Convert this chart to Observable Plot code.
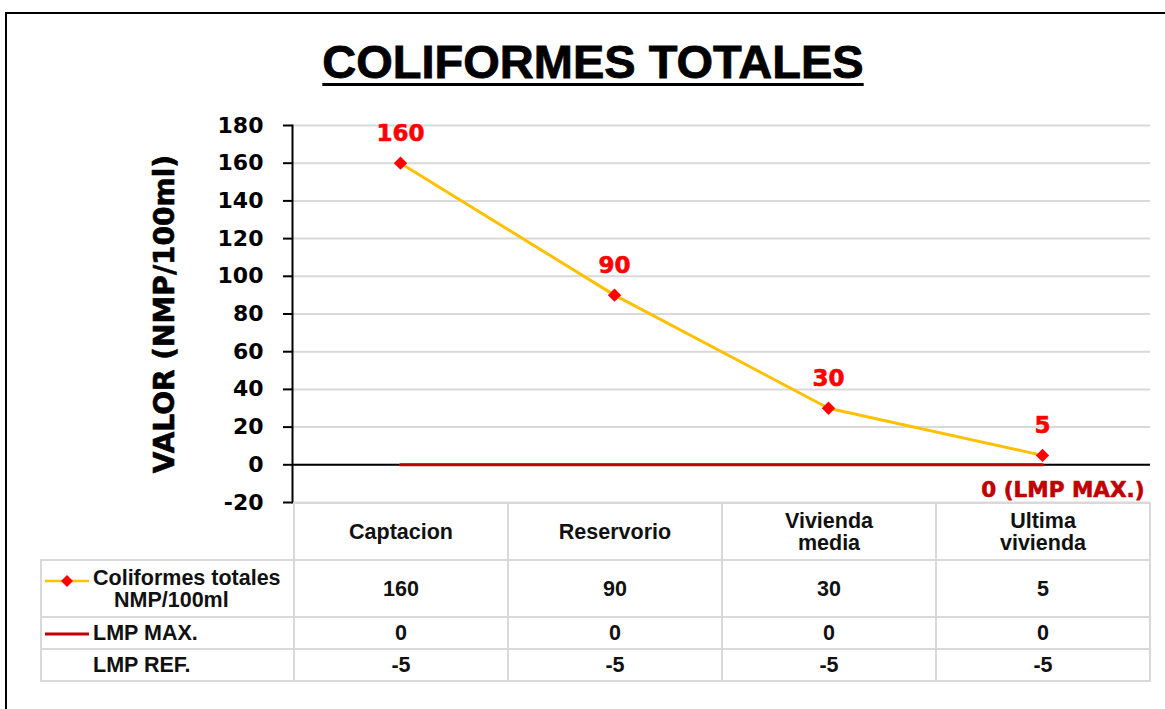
<!DOCTYPE html>
<html>
<head>
<meta charset="utf-8">
<script src="https://cdn.jsdelivr.net/npm/d3@7"></script>
<script src="https://cdn.jsdelivr.net/npm/@observablehq/plot@0.6"></script>
<style>
  html, body { margin: 0; padding: 0; background: #fff; }
  #wrap { position: relative; width: 1165px; height: 709px; overflow: hidden; background: #fff; }
  #frame { position: absolute; left: 5px; top: 12px; width: 1200px; height: 800px;
           border-left: 2px solid #000; border-top: 2px solid #000; box-sizing: border-box; }
  #title { position: absolute; top: 38px; left: 593px; transform: translateX(-50%);
           font-family: "Liberation Sans", Arial, sans-serif; font-weight: bold; font-size: 47px;
           line-height: 1; white-space: nowrap; color: #000; -webkit-text-stroke: 0.8px #000;
           text-decoration: underline; text-decoration-thickness: 3px; text-underline-offset: 5px; }
  #chart { position: absolute; left: 0; top: 0; }
  #chart text.heavy { paint-order: stroke; }
  #tbl { position: absolute; border-collapse: collapse; table-layout: fixed;
         font-family: "Liberation Sans", Arial, sans-serif; font-weight: bold; font-size: 21.5px; color: #111; }
  #tbl td { border: 2px solid #d9d9d9; text-align: center; padding: 0; line-height: 22px; box-sizing: border-box; }
  #tbl td.blank { border-top: none; border-left: none; }
  #tbl td.leg { text-align: left; white-space: nowrap; }
  .key { display: inline-block; vertical-align: middle; width: 44px; height: 14px; margin: 0 4px 0 3px; }
</style>
</head>
<body>
<div id="wrap">
  <div id="frame"></div>
  <div id="title">COLIFORMES TOTALES</div>
</div>
<script>
// ---- data ----
const categories = ["Captacion", "Reservorio", "Vivienda media", "Ultima vivienda"];
const headerLabels = [["Captacion"], ["Reservorio"], ["Vivienda", "media"], ["Ultima", "vivienda"]];
const coliformes = [160, 90, 30, 5];
const lmpMax = [0, 0, 0, 0];
const lmpRef = [-5, -5, -5, -5];
const yTicks = [-20, 0, 20, 40, 60, 80, 100, 120, 140, 160, 180];
const seriesNames = ["Coliformes totales NMP/100ml", "LMP MAX.", "LMP REF."];
const yLabel = "VALOR (NMP/100ml)";

const colData = categories.map((c, i) => ({cat: c, value: coliformes[i]}));
const maxData = categories.map((c, i) => ({cat: c, value: lmpMax[i]}));

const FONT = "DejaVu Sans";

const chart = Plot.plot({
  width: 1165,
  height: 709,
  marginTop: 125,
  marginBottom: 207,
  marginLeft: 292,
  marginRight: 15,
  style: {background: "transparent", overflow: "visible", fontFamily: FONT},
  x: {type: "point", domain: categories, padding: 0.5, axis: null},
  y: {domain: [-20, 180]},
  marks: [
    Plot.gridY(yTicks, {stroke: "#d9d9d9", strokeOpacity: 1, strokeWidth: 2}),
    Plot.ruleY([0], {stroke: "#000", strokeWidth: 2}),
    Plot.frame({anchor: "left", stroke: "#000", strokeWidth: 2}),
    Plot.axisY({
      ticks: yTicks, tickSize: 9, tickPadding: 20, tickFormat: d => String(d),
      fontSize: 22, fontWeight: "bold", fontFamily: FONT, fill: "#000", stroke: "#000", strokeWidth: 2, label: null
    }),
    Plot.text([yLabel], {frameAnchor: "left", textAnchor: "middle", dx: -127, rotate: -90, fontSize: 28,
      fontWeight: "bold", fontFamily: FONT, fill: "#000", stroke: "#000", strokeWidth: 0.6}),
    Plot.lineY(maxData, {x: "cat", y: "value", stroke: "#C00000", strokeWidth: 3}),
    Plot.lineY(colData, {x: "cat", y: "value", stroke: "#FFC000", strokeWidth: 3}),
    Plot.dot(colData, {x: "cat", y: "value", symbol: "diamond2", fill: "#FF0000", stroke: "none", r: 6}),
    Plot.text(colData, {x: "cat", y: "value", text: d => String(d.value), dy: -30, fill: "#FF0000",
      stroke: "#FF0000", strokeWidth: 0.6, fontSize: 23, fontWeight: "bold", fontFamily: FONT}),
    Plot.text(maxData.filter((d, i) => i === maxData.length - 1), {x: "cat", y: "value",
      text: d => `${d.value} (LMP MAX.)`, dx: 102, dy: 25, textAnchor: "end", fill: "#C00000",
      stroke: "#C00000", strokeWidth: 0.6, fontSize: 21.5, fontWeight: "bold", fontFamily: FONT})
  ]
});
chart.id = "chart";
document.getElementById("wrap").appendChild(chart);

// ---- data table aligned on the x scale ----
const xs = chart.scale("x");
const step = xs.apply(categories[1]) - xs.apply(categories[0]);
const left0 = xs.apply(categories[0]) - step / 2;
const y = chart.scale("y");
const tableTop = y.apply(-20);
const legLeft = 40;

const tbl = document.createElement("table");
tbl.id = "tbl";
tbl.style.left = legLeft + "px";
tbl.style.top = (tableTop) + "px";
tbl.style.width = (left0 - legLeft + step * categories.length) + "px";

const cg = document.createElement("colgroup");
const c0 = document.createElement("col"); c0.style.width = (left0 - legLeft) + "px"; cg.appendChild(c0);
categories.forEach(() => { const c = document.createElement("col"); c.style.width = step + "px"; cg.appendChild(c); });
tbl.appendChild(cg);

function row(h) { const tr = document.createElement("tr"); tr.style.height = h + "px"; tbl.appendChild(tr); return tr; }

// header
let tr = row(57);
let td = document.createElement("td"); td.className = "blank"; tr.appendChild(td);
headerLabels.forEach(lines => { const t = document.createElement("td"); t.innerHTML = lines.join("<br>"); tr.appendChild(t); });

const keyCol = `<svg class="key" viewBox="0 0 44 14"><line x1="0" x2="44" y1="7" y2="7" stroke="#FFC000" stroke-width="2.5"/><path d="M22 1 L28 7 L22 13 L16 7 Z" fill="#FF0000"/></svg>`;
const keyMax = `<svg class="key" viewBox="0 0 44 14"><line x1="0" x2="44" y1="7" y2="7" stroke="#C00000" stroke-width="3"/></svg>`;

// series rows
const rows = [
  {h: 57, leg: `<div style="display:flex;align-items:flex-start"><div style="padding-top:2px">${keyCol}</div><div>Coliformes totales<br><span style="padding-left:21px">NMP/100ml</span></div></div>`, vals: coliformes},
  {h: 32, leg: `${keyMax}LMP MAX.`, vals: lmpMax},
  {h: 32, leg: `<span style="display:inline-block;width:51px"></span>LMP REF.`, vals: lmpRef}
];
rows.forEach(r => {
  const t = row(r.h);
  const l = document.createElement("td"); l.className = "leg"; l.innerHTML = r.leg; t.appendChild(l);
  r.vals.forEach(v => { const c = document.createElement("td"); c.textContent = String(v); t.appendChild(c); });
});
document.getElementById("wrap").appendChild(tbl);
</script>
</body>
</html>
